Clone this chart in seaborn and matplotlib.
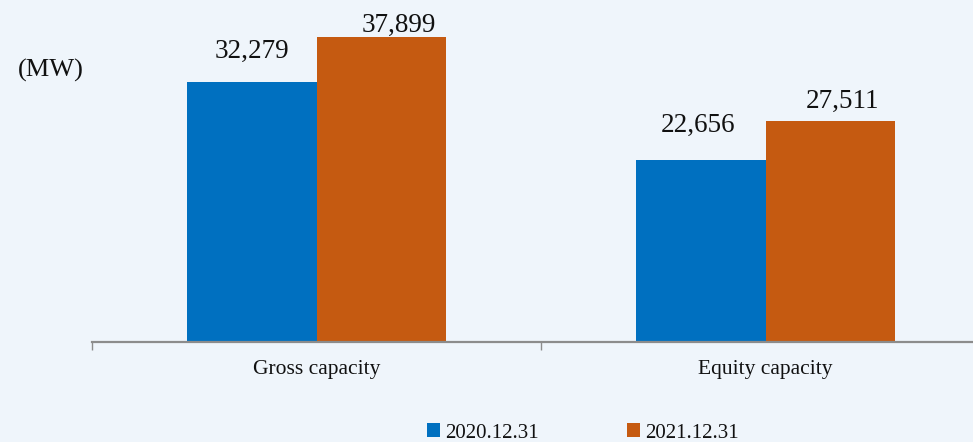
import matplotlib
matplotlib.use("Agg")
import matplotlib.pyplot as plt
import seaborn as sns
import pandas as pd

# Installed capacity (MW)
categories = ["Gross capacity", "Equity capacity"]
periods = ["2020.12.31", "2021.12.31"]
values_2020 = [32279, 22656]
values_2021 = [37899, 27511]

colors = ["#0070C0", "#C55A11"]
bg = "#EFF5FB"

df = pd.DataFrame({
    "category": categories * 2,
    "period": [periods[0]] * 2 + [periods[1]] * 2,
    "value": values_2020 + values_2021,
})

sns.set_theme(style="white")
plt.rcParams["font.family"] = ["Liberation Serif", "DejaVu Serif"]

W, H = 973, 442
fig = plt.figure(figsize=(W / 100, H / 100), dpi=100, facecolor=bg)
ax = fig.add_axes([92 / W, 100 / H, 898 / W, 342 / H])
ax.set_facecolor(bg)

sns.barplot(data=df, x="category", y="value", hue="period", order=categories,
            hue_order=periods, palette=colors, width=0.575, gap=0,
            saturation=1, linewidth=0, legend=False, ax=ax)

ax.set_xlim(-0.5, 1.5)
ax.set_ylim(0, 42540)
ax.set_xlabel("")
ax.set_ylabel("")
ax.set_yticks([])
for s in ["top", "right", "left"]:
    ax.spines[s].set_visible(False)
ax.spines["bottom"].set_color("#8C8C8C")
ax.spines["bottom"].set_linewidth(1.6)

ax.tick_params(axis="x", which="major", bottom=False, length=0, pad=13,
               labelsize=15.5, labelcolor="#111111")
ax.set_xticks([-0.5, 0.5, 1.5], minor=True)
ax.tick_params(axis="x", which="minor", bottom=True, length=6, width=1.0,
               color="#8C8C8C", direction="out")

# value labels above each bar (offsets in points)
label_offsets = {
    periods[0]: [(0, 18), (-2, 20)],
    periods[1]: [(13, 4), (9, 9)],
}
series = {periods[0]: values_2020, periods[1]: values_2021}
for container, period in zip(ax.containers, periods):
    for bar, val, (dx, dy) in zip(container, series[period], label_offsets[period]):
        xc = bar.get_x() + bar.get_width() / 2
        ax.annotate(f"{val:,}", xy=(xc, val), xytext=(dx, dy),
                    textcoords="offset points", ha="center", va="baseline",
                    fontsize=19.5, color="#111111", annotation_clip=False)

fig.text(18 / W, 1 - 70 / H, "(MW)", ha="left", va="center", fontsize=19,
         color="#111111")

handles = [plt.Rectangle((0, 0), 1, 1, facecolor=c, edgecolor="none") for c in colors]
fig.legend(handles, periods, loc="center", bbox_to_anchor=(583 / W, 9 / H),
           ncol=2, frameon=False, fontsize=15, handlelength=0.65,
           handleheight=0.65, handletextpad=0.25, columnspacing=4.2,
           borderpad=0, labelcolor="#111111")

fig.savefig("out.png", dpi=100, facecolor=bg)
